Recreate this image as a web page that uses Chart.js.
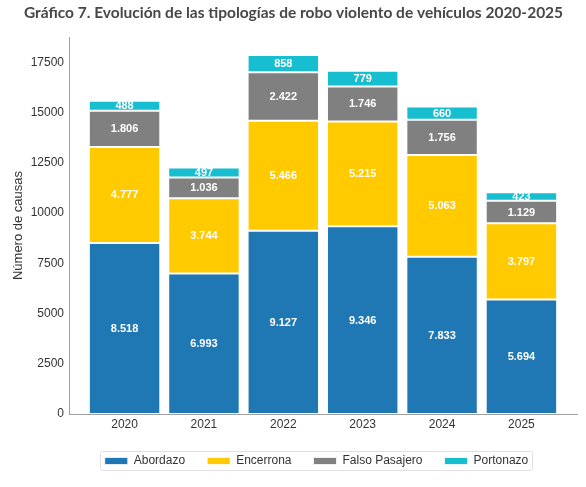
<!DOCTYPE html>
<html><head><meta charset="utf-8">
<script src="https://cdn.jsdelivr.net/npm/chart.js@4/dist/chart.umd.min.js"></script>
<style>html,body{margin:0;padding:0;background:#fff}</style>
</head><body>
<canvas id="c" width="586" height="487"></canvas>
<script>
const categories = ['2020','2021','2022','2023','2024','2025'];
const abordazo = [8518, 6993, 9127, 9346, 7833, 5694];
const encerrona = [4777, 3744, 5466, 5215, 5063, 3797];
const falsoPasajero = [1806, 1036, 2422, 1746, 1756, 1129];
const portonazo = [488, 497, 858, 779, 660, 423];
const yTicks = [0, 2500, 5000, 7500, 10000, 12500, 15000, 17500];

const titleText = 'Gráfico 7. Evolución de las tipologías de robo violento de vehículos 2020-2025';
const seriesNames = ['Abordazo','Encerrona','Falso Pasajero','Portonazo'];
const seriesData = [abordazo, encerrona, falsoPasajero, portonazo];
const colors = ['#1f77b4','#ffca00','#808080','#17becf'];

const totals = categories.map((_, i) => seriesData.reduce((s, d) => s + d[i], 0));
const yMax = Math.max(...totals) * 1.05;

function fmt(v){ return String(v).replace(/\B(?=(\d{3})+(?!\d))/g, '.'); }

const labelPlugin = {
  id: 'barLabels',
  afterDatasetsDraw(chart){
    const ctx = chart.ctx;
    ctx.save();
    ctx.fillStyle = '#ffffff';
    ctx.font = 'bold 11px "Liberation Sans", Arial, sans-serif';
    ctx.textAlign = 'center';
    ctx.textBaseline = 'middle';
    chart.data.datasets.forEach((ds, di) => {
      const meta = chart.getDatasetMeta(di);
      meta.data.forEach((el, i) => {
        ctx.fillText(fmt(ds.data[i].y), el.x, (el.y + el.base) / 2 + 0.5);
      });
    });
    ctx.restore();
  }
};

const titlePlugin = {
  id: 'customTitle',
  afterDraw(chart){
    const ctx = chart.ctx;
    ctx.save();
    ctx.fillStyle = '#474747';
    ctx.font = 'bold 15.5px Lato, sans-serif';
    ctx.textAlign = 'center';
    ctx.textBaseline = 'middle';
    ctx.fillText(titleText, 293.5, 12.5);
    ctx.restore();
  }
};

const legendShiftPlugin = {
  id: 'legendShift',
  afterLayout(chart){
    const lg = chart.legend;
    if (!lg) return;
    lg.left += 28; lg.right += 28;
  }
};

const legendBoxPlugin = {
  id: 'legendBox',
  afterDraw(chart){
    const lg = chart.legend;
    if (!lg || !lg.legendHitBoxes || !lg.legendHitBoxes.length) return;
    const hb = lg.legendHitBoxes;
    const x0 = Math.round(Math.min(...hb.map(h => h.left)) - 5) + 0.5;
    const x1 = Math.round(Math.max(...hb.map(h => h.left + h.width)) + 4) + 0.5;
    const cy = hb[0].top + hb[0].height / 2;
    const ctx = chart.ctx;
    ctx.save();
    ctx.strokeStyle = '#e0e0e0';
    ctx.lineWidth = 1;
    const y0 = Math.round(cy - 10) + 0.5, h = 19;
    const r = 2;
    ctx.beginPath();
    ctx.moveTo(x0 + r, y0);
    ctx.lineTo(x1 - r, y0); ctx.quadraticCurveTo(x1, y0, x1, y0 + r);
    ctx.lineTo(x1, y0 + h - r); ctx.quadraticCurveTo(x1, y0 + h, x1 - r, y0 + h);
    ctx.lineTo(x0 + r, y0 + h); ctx.quadraticCurveTo(x0, y0 + h, x0, y0 + h - r);
    ctx.lineTo(x0, y0 + r); ctx.quadraticCurveTo(x0, y0, x0 + r, y0);
    ctx.stroke();
    ctx.restore();
  }
};

const bgPlugin = {
  id: 'bg',
  beforeDraw(chart){
    const ctx = chart.ctx;
    ctx.save(); ctx.fillStyle = '#fff'; ctx.fillRect(0, 0, chart.width, chart.height); ctx.restore();
  }
};

new Chart(document.getElementById('c'), {
  type: 'bar',
  data: {
    datasets: seriesNames.map((n, k) => ({
      label: n,
      data: seriesData[k].map((v, i) => ({ x: i, y: v })),
      backgroundColor: colors[k],
      borderColor: 'rgba(255,255,255,0.75)',
      borderWidth: 1,
      borderSkipped: false,
      categoryPercentage: 1,
      barPercentage: 0.9
    }))
  },
  options: {
    responsive: false,
    animation: false,
    devicePixelRatio: 1,
    layout: { padding: { left: 0, right: 9, top: 37, bottom: 10 } },
    plugins: {
      title: { display: false },
      legend: {
        position: 'bottom',
        labels: {
          boxWidth: 23, boxHeight: 7,
          color: '#333',
          padding: 22,
          font: { family: '"Liberation Sans", Arial, sans-serif', size: 12 }
        }
      },
      tooltip: { enabled: false }
    },
    scales: {
      x: {
        type: 'linear',
        stacked: true,
        offset: false,
        min: -0.7, max: 5.7,
        afterBuildTicks(scale){ scale.ticks = categories.map((c, i) => ({ value: i })); },
        afterFit(scale){ scale.height = 19; },
        ticks: {
          callback: (v) => categories[v],
          color: '#333',
          font: { family: '"Liberation Sans", Arial, sans-serif', size: 12 },
          padding: 3,
          maxRotation: 0
        },
        grid: { display: false, drawTicks: false },
        border: { display: true, color: '#a0a0a0', width: 1 }
      },
      y: {
        stacked: true,
        min: 0, max: yMax,
        afterBuildTicks(scale){ scale.ticks = yTicks.map(v => ({ value: v })); },
        afterFit(scale){ scale.width = 69; },
        ticks: {
          callback: (v) => String(v),
          color: '#333',
          font: { family: '"Liberation Sans", Arial, sans-serif', size: 12 },
          padding: 5
        },
        grid: { display: false, drawTicks: false },
        border: { display: true, color: '#a0a0a0', width: 1 },
        title: {
          display: true,
          text: 'Número de causas',
          color: '#333',
          font: { family: '"Liberation Sans", Arial, sans-serif', size: 13 },
          padding: { top: 11, bottom: 0 }
        }
      }
    }
  },
  plugins: [bgPlugin, legendShiftPlugin, labelPlugin, legendBoxPlugin, titlePlugin]
});
</script>
</body></html>
